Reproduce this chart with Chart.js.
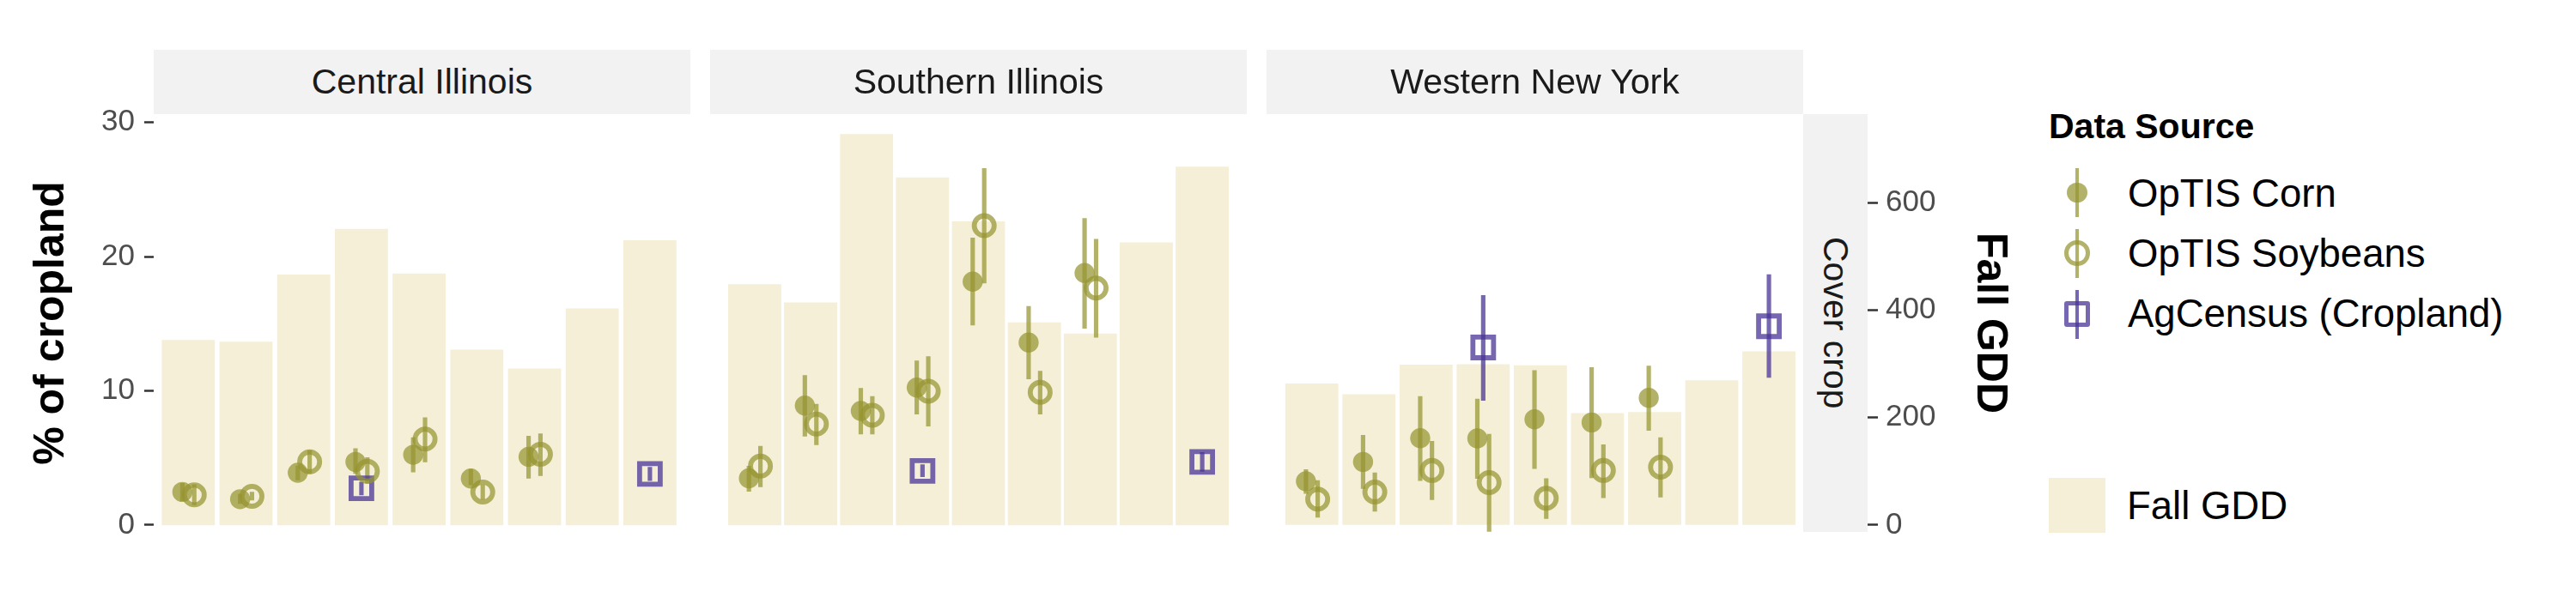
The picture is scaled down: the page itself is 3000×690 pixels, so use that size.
<!DOCTYPE html>
<html>
<head>
  <meta charset="utf-8" />
  <title>Cover crop adoption and Fall GDD</title>
  <script src="https://cdn.jsdelivr.net/npm/chart.js"></script>
  <style>
    body { margin: 0; background: #fff; font-family: 'Liberation Sans', Arial, sans-serif; }
    #wrap { position: relative; width: 3000px; height: 690px; overflow: hidden; background: #fff; }
    canvas { position: absolute; top: 100px; }
    .strip {
      position: absolute; top: 58px; height: 75px; width: 625px;
      background: #F2F2F2; color: #1A1A1A; font-size: 41px;
      display: flex; align-items: center; justify-content: center;
    }
    .side-strip {
      position: absolute; left: 2100px; top: 133px; width: 75px; height: 487px;
      background: #F2F2F2; color: #1A1A1A; font-size: 41px;
      display: flex; align-items: center; justify-content: center;
      writing-mode: vertical-rl;
    }
    .lg { position: absolute; color: #000; line-height: 1; white-space: nowrap; }
    .lg-title { font-size: 41px; font-weight: bold; }
    .lg-label { font-size: 45.5px; }
    .k { position: absolute; box-sizing: border-box; }
  </style>
</head>
<body>
<div id="wrap">
  <canvas id="panel1" width="820" height="560" style="left:0px"></canvas>
  <canvas id="panel2" width="645" height="560" style="left:817px"></canvas>
  <canvas id="panel3" width="905" height="560" style="left:1465px"></canvas>

  <div class="strip" style="left:179px">Central Illinois</div>
  <div class="strip" style="left:827px">Southern Illinois</div>
  <div class="strip" style="left:1475px">Western New York</div>
  <div class="side-strip">Cover crop</div>

  <div class="lg lg-title" style="left:2386px; top:127px">Data Source</div>

  <!-- legend keys -->
  <div class="k" style="left:2407.3px; top:212.6px; width:23.4px; height:23.4px; border-radius:50%; background:rgba(150,148,48,0.72)"></div>
  <div class="k" style="left:2416.8px; top:196px; width:4.5px; height:57px; background:rgba(150,148,48,0.72)"></div>
  <div class="k" style="left:2404.2px; top:280.2px; width:29.6px; height:29.6px; border-radius:50%; border:5.8px solid rgba(150,148,48,0.72)"></div>
  <div class="k" style="left:2416.8px; top:267px; width:4.5px; height:57px; background:rgba(150,148,48,0.72)"></div>
  <div class="k" style="left:2404.2px; top:351px; width:29.6px; height:29.6px; border-radius:3px; border:5.5px solid rgba(72,52,150,0.75)"></div>
  <div class="k" style="left:2416.8px; top:338px; width:4.5px; height:57px; background:rgba(72,52,150,0.75)"></div>
  <div class="k" style="left:2386px; top:557px; width:66px; height:64px; background:#F5EFD7"></div>

  <div class="lg lg-label" style="left:2478px; top:203px">OpTIS Corn</div>
  <div class="lg lg-label" style="left:2478px; top:273px">OpTIS Soybeans</div>
  <div class="lg lg-label" style="left:2478px; top:343px">AgCensus (Cropland)</div>
  <div class="lg lg-label" style="left:2477px; top:567px">Fall GDD</div>
</div>

<script>
  // seasons (not labelled on the x axis)
  const seasons = [2014, 2015, 2016, 2017, 2018, 2019, 2020, 2021, 2022];
  const regions = ['Central Illinois', 'Southern Illinois', 'Western New York'];

  const leftTicks = [0, 10, 20, 30];     // % of cropland
  const rightTicks = [0, 200, 400, 600]; // Fall GDD

  // Fall GDD bars
  const gddCentral  = [344, 341, 466, 551, 468, 326, 291, 403, 530];
  const gddSouthern = [448, 414, 728, 647, 565, 377, 356, 526, 667];
  const gddWestern  = [263, 243, 298, 299, 297, 208, 210, 269, 323];

  // OpTIS corn, % of cropland, with interval
  const cornCentral    = [2.46, 1.92, 3.89, 4.70, 5.23, 3.46, 5.08, null, null];
  const cornCentralCI  = [[1.8, 3.1], [1.6, 2.3], [3.36, 4.4], [3.84, 5.7], [3.95, 6.51], [2.99, 4.16], [3.48, 6.62], null, null];
  const cornSouthern   = [3.48, 8.90, 8.50, 10.24, 18.14, 13.60, 18.78, null, null];
  const cornSouthernCI = [[2.5, 4.38], [6.62, 11.14], [6.77, 10.18], [8.26, 12.23], [14.9, 21.39], [10.88, 16.29], [14.66, 22.84], null, null];
  const cornWestern    = [3.25, 4.70, 6.47, 6.45, 7.87, 7.64, 9.47, null, null];
  const cornWesternCI  = [[2.35, 4.12], [2.71, 6.68], [3.31, 9.58], [3.46, 9.39], [4.2, 11.52], [3.52, 11.74], [7.04, 11.84], null, null];

  // OpTIS soybeans
  const soyCentral    = [2.24, 2.14, 4.70, 4.01, 6.40, 2.46, 5.27, null, null];
  const soyCentralCI  = [[1.5, 3.0], [1.85, 2.45], [3.84, 5.55], [3.1, 5.02], [4.7, 8.0], [1.92, 2.99], [3.67, 6.79], null, null];
  const soySouthern   = [4.38, 7.52, 8.18, 9.97, 22.30, 9.88, 17.65, null, null];
  const soySouthernCI = [[2.84, 5.87], [5.98, 9.01], [6.77, 9.57], [7.36, 12.55], [18.03, 26.57], [8.26, 11.46], [13.98, 21.3], null, null];
  const soyWestern    = [1.92, 2.46, 4.06, 3.16, 1.99, 4.06, 4.31, null, null];
  const soyWesternCI  = [[0.58, 3.31], [1.02, 3.89], [1.88, 6.24], [-0.49, 6.77], [0.47, 3.46], [2.03, 5.98], [2.07, 6.51], null, null];

  // AgCensus (cropland)
  const censusCentral    = [null, null, null, 2.73, null, null, null, null, 3.80];
  const censusCentralCI  = [null, null, null, [2.24, 3.2], null, null, null, null, [3.3, 4.3]];
  const censusSouthern   = [null, null, null, 4.03, null, null, null, null, 4.70];
  const censusSouthernCI = [null, null, null, [3.6, 4.5], null, null, null, null, [4.0, 5.4]];
  const censusWestern    = [null, null, null, 13.23, null, null, null, null, 14.81];
  const censusWesternCI  = [null, null, null, [9.28, 17.1], null, null, null, null, [10.99, 18.65]];

  const OLIVE = 'rgba(150, 148, 48, 0.72)';
  const PURPLE = 'rgba(72, 52, 150, 0.75)';
  const BAR_FILL = '#F5EFD7';
  const Y_MIN = -0.52, Y_MAX = 30.62;
  const GDD_PER_PCT = 25;  // secondary axis: GDD = % * 25
  const PANEL_W = 625;
  const UNIT = PANEL_W / (seasons.length + 0.2);
  const DODGE = 0.103;

  Chart.defaults.font.family = "'Liberation Sans', Arial, sans-serif";

  function pts(vals, shift) {
    return vals.map((v, i) => v == null ? null : { x: i + 1 + shift, y: v }).filter(Boolean);
  }

  function panelDatasets(gdd, corn, cornCI, soy, soyCI, census, censusCI) {
    const errBar = (ci, shift, color) => ({
      type: 'bar', data: pts(ci, shift), yAxisID: 'y', grouped: false,
      barThickness: 4.5, backgroundColor: color, borderWidth: 0, order: 3
    });
    const dots = (vals, shift, extra) => Object.assign({
      type: 'line', data: pts(vals, shift), yAxisID: 'y', showLine: false, order: 2
    }, extra);
    return [
      { type: 'bar', label: 'Fall GDD', data: pts(gdd, 0), yAxisID: 'gdd', grouped: false,
        barThickness: UNIT * 0.9, backgroundColor: BAR_FILL, borderWidth: 0, order: 10 },
      errBar(cornCI, -DODGE, OLIVE),
      errBar(soyCI, DODGE, OLIVE),
      errBar(censusCI, 0, PURPLE),
      dots(corn, -DODGE, { label: 'OpTIS Corn', pointRadius: 11.7, pointBackgroundColor: OLIVE, pointBorderWidth: 0 }),
      dots(soy, DODGE, { label: 'OpTIS Soybeans', pointRadius: 11.6, pointBackgroundColor: 'rgba(0,0,0,0)',
        pointBorderColor: OLIVE, pointBorderWidth: 5.8 }),
      dots(census, 0, { label: 'AgCensus (Cropland)', pointStyle: 'rect', pointRadius: 17,
        pointBackgroundColor: 'rgba(0,0,0,0)', pointBorderColor: PURPLE, pointBorderWidth: 5.8 })
    ];
  }

  function makePanel(id, datasets, opt) {
    const scales = {
      x: { type: 'linear', min: 0.4, max: seasons.length + 0.6, offset: false, display: false },
      y: {
        type: 'linear', position: 'left', min: Y_MIN, max: Y_MAX, display: opt.left,
        afterBuildTicks: s => { s.ticks = leftTicks.map(v => ({ value: v })); },
        afterFit: s => { if (opt.left) s.width = 179; },
        grid: { drawOnChartArea: false, tickLength: 11, tickWidth: 2.5, tickColor: '#333333' },
        border: { display: false },
        ticks: { font: { size: 35 }, color: '#4D4D4D', padding: 11 },
        title: { display: true, text: '% of cropland', color: '#000',
          font: { size: 50, weight: 'bold' }, padding: { top: 30, bottom: 0 } }
      },
      gdd: {
        type: 'linear', position: 'right', weight: 2,
        min: Y_MIN * GDD_PER_PCT, max: Y_MAX * GDD_PER_PCT, display: opt.right,
        afterBuildTicks: s => { s.ticks = rightTicks.map(v => ({ value: v })); },
        afterFit: s => { if (opt.right) s.width = 180.5; },
        grid: { drawOnChartArea: false, tickLength: 12, tickWidth: 2.5, tickColor: '#333333' },
        border: { display: false },
        ticks: { font: { size: 35 }, color: '#4D4D4D', padding: 9 },
        title: { display: true, text: 'Fall GDD', color: '#000',
          font: { size: 50, weight: 'bold' }, padding: { top: 9, bottom: 0 } }
      }
    };
    if (opt.right) {
      // room for the "Cover crop" strip between the panel and the GDD axis
      scales.stripSpace = {
        type: 'linear', position: 'right', weight: 1, display: true,
        grid: { display: false }, ticks: { display: false }, border: { display: false },
        afterFit: s => { s.width = 75; }
      };
    }
    return new Chart(document.getElementById(id), {
      type: 'bar',
      data: { datasets },
      options: {
        responsive: false,
        animation: false,
        events: [],
        layout: { padding: opt.padding },
        plugins: { legend: { display: false }, tooltip: { enabled: false } },
        scales
      }
    });
  }

  makePanel('panel1',
    panelDatasets(gddCentral, cornCentral, cornCentralCI, soyCentral, soyCentralCI, censusCentral, censusCentralCI),
    { left: true, right: false, padding: { left: 0, right: 16, top: 33, bottom: 40 } });
  makePanel('panel2',
    panelDatasets(gddSouthern, cornSouthern, cornSouthernCI, soySouthern, soySouthernCI, censusSouthern, censusSouthernCI),
    { left: false, right: false, padding: { left: 10, right: 10, top: 33, bottom: 40 } });
  makePanel('panel3',
    panelDatasets(gddWestern, cornWestern, cornWesternCI, soyWestern, soyWesternCI, censusWestern, censusWesternCI),
    { left: false, right: true, padding: { left: 10, right: 14.5, top: 33, bottom: 40 } });
</script>
</body>
</html>
